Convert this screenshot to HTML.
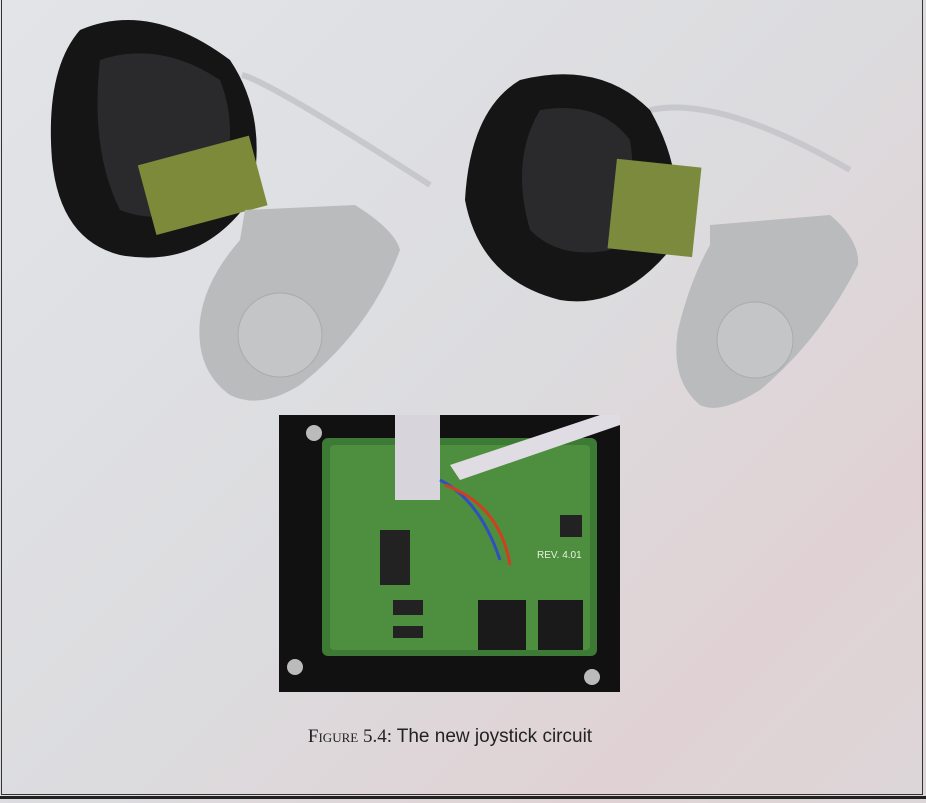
<!DOCTYPE html>
<html><head><meta charset="utf-8">
<style>
html,body{margin:0;padding:0;}
body{width:926px;height:803px;overflow:hidden;background:linear-gradient(135deg,#e2e4e8 0%,#dcdcdf 50%,#e0d2d4 80%,#dcd6d8 100%);position:relative;font-family:"Liberation Serif",serif;}
#frame{position:absolute;left:1px;top:-2px;width:920px;height:796px;border:1px solid #333;border-top:none;}
#bottomline{position:absolute;left:0;top:796px;width:926px;height:3px;background:#222;}
#caption{position:absolute;left:0;width:900px;top:726px;text-align:center;font-size:19px;color:#222;}
.sc{font-variant:small-caps;}
svg{position:absolute;left:0;top:0;}
</style></head>
<body>
<div id="frame"></div>
<div id="bottomline"></div>
<svg width="926" height="803">
  <g>
    <path d="M242,75 Q270,82 430,185" stroke="#c8c8cc" stroke-width="6" fill="none"/>
    <path d="M80,30 Q150,0 230,60 Q270,120 250,200 Q200,270 120,255 Q60,240 52,160 Q45,70 80,30Z" fill="#151515"/>
    <path d="M100,60 Q160,40 220,80 Q240,130 220,190 Q170,230 120,210 Q90,150 100,60Z" fill="#2a2a2c"/>
    <rect x="145" y="150" width="115" height="72" fill="#7d8a3a" transform="rotate(-15 200 185)"/>
    <path d="M245,210 L355,205 Q395,230 400,250 Q370,330 300,385 Q260,410 230,395 Q195,370 200,320 Q205,280 240,240Z" fill="#b9bbbd"/>
    <circle cx="280" cy="335" r="42" fill="#c3c5c6" stroke="#a8aaac"/>
  </g>
  <g>
    <path d="M650,110 Q720,95 850,170" stroke="#c8c8cc" stroke-width="6" fill="none"/>
    <path d="M520,80 Q600,60 650,110 Q690,180 670,250 Q620,310 560,300 Q480,280 465,200 Q470,110 520,80Z" fill="#151515"/>
    <path d="M540,110 Q600,100 630,140 Q640,200 610,250 Q560,260 530,230 Q510,160 540,110Z" fill="#2a2a2c"/>
    <rect x="612" y="163" width="85" height="90" fill="#7b8a3c" transform="rotate(6 655 208)"/>
    <path d="M710,225 L830,215 Q860,240 858,265 Q820,340 760,390 Q720,415 700,405 Q670,380 678,330 Q690,280 710,245Z" fill="#b9bbbd"/>
    <circle cx="755" cy="340" r="38" fill="#c3c5c6" stroke="#a8aaac"/>
  </g>
  <g>
    <rect x="279" y="415" width="341" height="277" fill="#111"/>
    <rect x="322" y="438" width="275" height="218" fill="#3d7a35" rx="6"/>
    <rect x="330" y="445" width="260" height="205" fill="#4e8f3f" rx="4"/>
    <rect x="478" y="600" width="48" height="50" fill="#1a1a1a"/>
    <rect x="538" y="600" width="45" height="50" fill="#1a1a1a"/>
    <rect x="393" y="600" width="30" height="15" fill="#222"/>
    <rect x="393" y="626" width="30" height="12" fill="#222"/>
    <rect x="380" y="530" width="30" height="55" fill="#222"/>
    <rect x="560" y="515" width="22" height="22" fill="#222"/>
    <path d="M395,415 L440,415 L440,500 L395,500Z" fill="#d8d4dc"/>
    <path d="M450,465 L600,415 L620,415 L620,425 L460,480Z" fill="#e0dce4"/>
    <path d="M440,480 Q480,500 500,560" stroke="#3050c0" stroke-width="3" fill="none"/>
    <path d="M445,485 Q500,505 510,565" stroke="#d04020" stroke-width="3" fill="none"/>
    <text x="537" y="558" font-size="10" fill="#e8f0e0" font-family="Liberation Sans, sans-serif">REV. 4.01</text>
    <circle cx="314" cy="433" r="8" fill="#bbb"/>
    <circle cx="295" cy="667" r="8" fill="#bbb"/>
    <circle cx="592" cy="677" r="8" fill="#bbb"/>
  </g>
</svg>
<div id="caption"><span class="sc">Figure</span> 5.4: <span style="font-family:'Liberation Sans',sans-serif">The new joystick circuit</span></div>
</body></html>
